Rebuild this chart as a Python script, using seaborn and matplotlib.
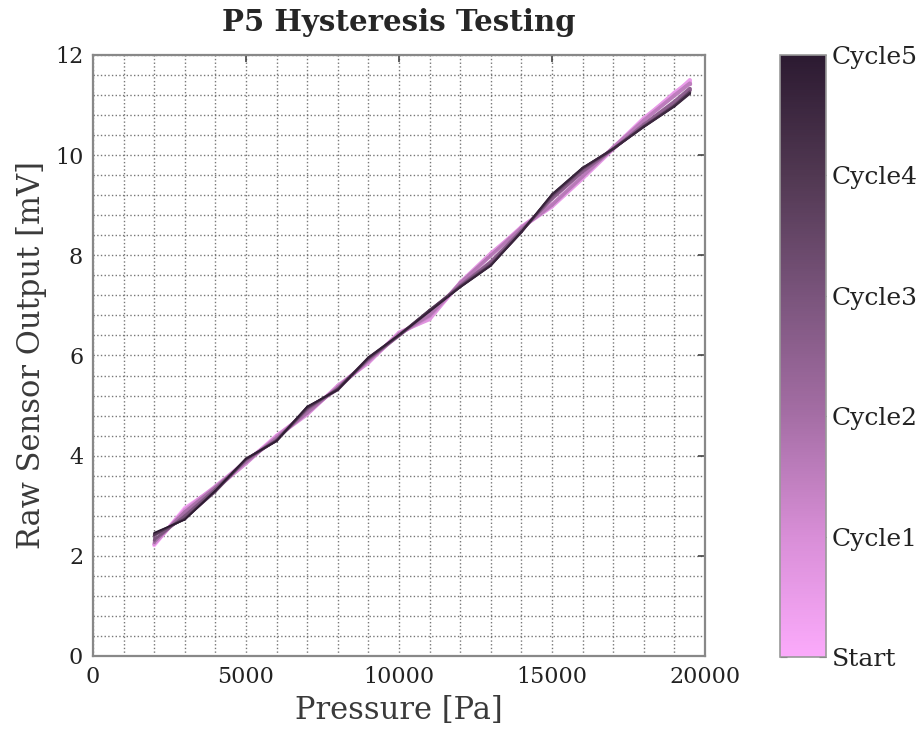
import numpy as np
import pandas as pd
import matplotlib
matplotlib.use("Agg")
import matplotlib.pyplot as plt
from matplotlib.colors import LinearSegmentedColormap, Normalize
from matplotlib.cm import ScalarMappable
from matplotlib.ticker import MultipleLocator
import seaborn as sns

# Applied pressure steps [Pa]
pressure = [2000, 3000, 4000, 5000, 6000, 7000, 8000, 9000, 10000, 11000,
            12000, 13000, 14000, 15000, 16000, 17000, 18000, 19000, 19500]

# Raw sensor output [mV] at each pressure step, loading (up) and unloading (down)
cycle1_up = [2.21, 2.95, 3.36, 3.86, 4.40, 4.84, 5.38, 5.87, 6.44, 6.75,
             7.44, 8.01, 8.57, 9.00, 9.56, 10.15, 10.74, 11.22, 11.50]
cycle1_down = [2.24, 2.92, 3.39, 3.89, 4.37, 4.82, 5.40, 5.85, 6.46, 6.72,
               7.46, 8.04, 8.55, 8.97, 9.53, 10.12, 10.72, 11.25, 11.47]
cycle2_up = [2.23, 2.90, 3.33, 3.84, 4.39, 4.87, 5.36, 5.88, 6.42, 6.78,
             7.43, 7.99, 8.56, 9.02, 9.58, 10.16, 10.70, 11.20, 11.44]
cycle2_down = [2.27, 2.88, 3.37, 3.87, 4.36, 4.85, 5.37, 5.90, 6.43, 6.80,
               7.45, 8.00, 8.54, 9.00, 9.57, 10.14, 10.69, 11.18, 11.42]
cycle3_up = [2.30, 2.82, 3.31, 3.90, 4.32, 4.91, 5.33, 5.92, 6.39, 6.88,
             7.40, 7.88, 8.50, 9.12, 9.66, 10.12, 10.62, 11.08, 11.34]
cycle3_down = [2.32, 2.80, 3.33, 3.92, 4.31, 4.93, 5.34, 5.93, 6.40, 6.90,
               7.39, 7.86, 8.49, 9.14, 9.68, 10.13, 10.60, 11.05, 11.31]
cycle4_up = [2.40, 2.75, 3.28, 3.92, 4.31, 4.96, 5.31, 5.94, 6.40, 6.89,
             7.38, 7.82, 8.47, 9.18, 9.72, 10.12, 10.58, 11.00, 11.27]
cycle4_down = [2.42, 2.74, 3.30, 3.94, 4.29, 4.95, 5.33, 5.96, 6.41, 6.91,
               7.37, 7.81, 8.46, 9.20, 9.74, 10.13, 10.57, 10.98, 11.25]
cycle5_up = [2.44, 2.73, 3.29, 3.93, 4.30, 4.97, 5.32, 5.95, 6.40, 6.90,
             7.37, 7.80, 8.46, 9.21, 9.74, 10.13, 10.57, 10.98, 11.24]
cycle5_down = [2.46, 2.72, 3.30, 3.94, 4.29, 4.98, 5.31, 5.96, 6.41, 6.88,
               7.36, 7.79, 8.47, 9.22, 9.75, 10.12, 10.56, 10.97, 11.22]

cycle_labels = ["Start", "Cycle1", "Cycle2", "Cycle3", "Cycle4", "Cycle5"]

# Full measurement sequence in time order (up sweep, then down sweep)
passes = [cycle1_up, cycle1_down, cycle2_up, cycle2_down, cycle3_up,
          cycle3_down, cycle4_up, cycle4_down, cycle5_up, cycle5_down]
seq_p, seq_v = [], []
for i, vals in enumerate(passes):
    if i % 2 == 0:
        seq_p += pressure
        seq_v += vals
    else:
        seq_p += pressure[::-1]
        seq_v += vals[::-1]
seq_p = np.array(seq_p, dtype=float)
seq_v = np.array(seq_v, dtype=float)
progress = np.linspace(0, len(cycle_labels) - 1, len(seq_p))

# One short line per consecutive pair of samples, coloured by progress
rows = []
for k in range(len(seq_p) - 1):
    t = 0.5 * (progress[k] + progress[k + 1])
    rows.append({"seg": k, "Pressure": seq_p[k], "Output": seq_v[k], "t": t})
    rows.append({"seg": k, "Pressure": seq_p[k + 1], "Output": seq_v[k + 1], "t": t})
df = pd.DataFrame(rows)

cmap = LinearSegmentedColormap.from_list(
    "cycles", ["#fbaafb", "#d88ed7", "#a56ea5", "#7a547c", "#513852", "#2c1a31"])
norm = Normalize(0, len(cycle_labels) - 1)

sns.set_style("white")
plt.rcParams["font.family"] = ["DejaVu Serif"]

fig = plt.figure(figsize=(9.24, 7.30), dpi=100)
ax = fig.add_axes([0.1006, 0.1014, 0.6624, 0.8233])

sns.lineplot(data=df, x="Pressure", y="Output", hue="t", units="seg",
             size="t", sizes=(2.8, 1.2), size_norm=norm,
             estimator=None, sort=False, palette=cmap, hue_norm=norm,
             legend=False, ax=ax, solid_capstyle="round")

ax.set_xlim(0, 20000)
ax.set_ylim(0, 12)
ax.xaxis.set_major_locator(MultipleLocator(5000))
ax.xaxis.set_minor_locator(MultipleLocator(1000))
ax.yaxis.set_major_locator(MultipleLocator(2))
ax.yaxis.set_minor_locator(MultipleLocator(0.4))
ax.grid(which="both", linestyle=":", color="#777777", linewidth=1.0)
ax.set_axisbelow(True)
ax.tick_params(which="major", direction="in", length=5, width=1.2,
               color="#444444", top=True, right=True, labelsize=16,
               labelcolor="#222222", pad=7)
ax.tick_params(which="minor", length=0)
for s in ax.spines.values():
    s.set_color("#888888")
    s.set_linewidth(1.6)

ax.set_xlabel("Pressure [Pa]", fontsize=22, color="#3a3a3a", labelpad=5)
ax.set_ylabel("Raw Sensor Output [mV]", fontsize=22, color="#3a3a3a", labelpad=6)
ax.set_title("P5 Hysteresis Testing", fontsize=21, fontweight="bold", pad=17)

cax = fig.add_axes([0.8445, 0.1, 0.0498, 0.8247])
sm = ScalarMappable(norm=norm, cmap=cmap)
cb = fig.colorbar(sm, cax=cax, ticks=range(len(cycle_labels)))
cb.ax.set_yticklabels(cycle_labels)
cb.outline.set_edgecolor("#999999")
cb.outline.set_linewidth(1.2)
cb.ax.tick_params(direction="in", length=5, color="#444444", left=True,
                  right=True, labelsize=18, labelcolor="#222222", pad=4)

fig.savefig("out.png", dpi=100)
